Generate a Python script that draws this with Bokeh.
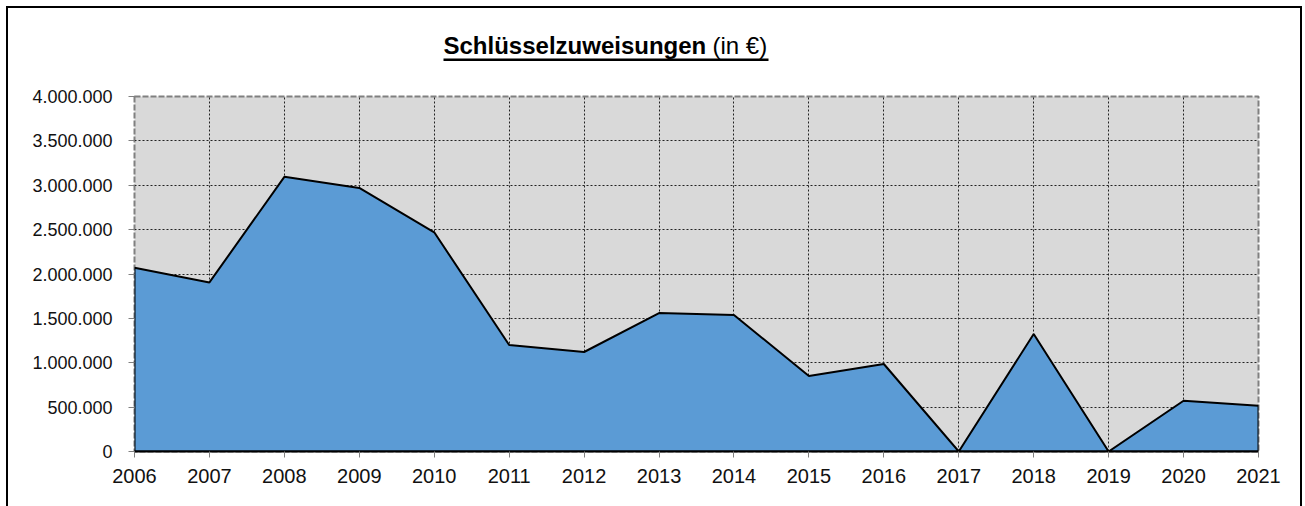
from bokeh.plotting import figure
from bokeh.layouts import column
from bokeh.models import Range1d, FixedTicker, CustomJSTickFormatter
from bokeh.core.properties import value
from bokeh.embed import file_html
from bokeh.resources import INLINE

years = list(range(2006, 2022))
values = [2070000, 1905000, 3095000, 2970000, 2470000, 1200000, 1121000, 1560000,
          1538000, 851000, 986000, 0, 1324000, 0, 572000, 516000]
y_ticks = [0, 500000, 1000000, 1500000, 2000000, 2500000, 3000000, 3500000, 4000000]
title_bold = "Schlüsselzuweisungen"
title_normal = "(in €)"

FONT = "Liberation Sans"
FRAME_L, FRAME_W, FRAME_R = 134, 1124, 47
TITLE_H = 86

# ---------- title strip: same horizontal frame as the chart, coordinates in pixels ----------
t = figure(frame_width=FRAME_W, frame_height=TITLE_H,
           x_range=Range1d(FRAME_L, FRAME_L + FRAME_W), y_range=Range1d(0, TITLE_H),
           x_axis_type=None, y_axis_type=None, output_backend="svg", toolbar_location=None,
           min_border_left=FRAME_L, min_border_right=FRAME_R, min_border_top=0, min_border_bottom=0)
t.grid.visible = False
t.outline_line_color = None
t.background_fill_color = None
t.border_fill_color = None
# y values are measured upward from the bottom of the strip
t.text(x=[443], y=[TITLE_H - 45], text=[title_bold], text_font=value(FONT), text_font_size="24px",
       text_font_style="bold", text_color="black", text_align="left", text_baseline="alphabetic")
t.text(x=[712], y=[TITLE_H - 45], text=[title_normal], text_font=value(FONT), text_font_size="24px",
       text_font_style="normal", text_color="black", text_align="left", text_baseline="alphabetic")
t.segment(x0=[443], y0=[TITLE_H - 59.2], x1=[768], y1=[TITLE_H - 59.2], line_color="black", line_width=2.5)

# ---------- chart ----------
p = figure(frame_width=FRAME_W, frame_height=355,
           x_range=Range1d(years[0], years[-1]), y_range=Range1d(y_ticks[0], y_ticks[-1]),
           output_backend="svg", toolbar_location=None,
           min_border_left=FRAME_L, min_border_right=FRAME_R, min_border_top=10, min_border_bottom=55)
p.border_fill_color = None
p.background_fill_color = "#D9D9D9"
p.outline_line_color = "#808080"
p.outline_line_width = 2
p.outline_line_dash = "6 2"

xs = [years[0]] + years + [years[-1]]
ys = [0] + values + [0]
p.patch(xs, ys, fill_color="#5B9BD5", line_color="black", line_width=2)

p.xaxis.ticker = FixedTicker(ticks=years)
p.yaxis.ticker = FixedTicker(ticks=y_ticks)
p.yaxis.formatter = CustomJSTickFormatter(code="""
return Math.round(tick).toString().replace(/\\B(?=(\\d{3})+(?!\\d))/g, ".");
""")
for ax in (p.xaxis[0], p.yaxis[0]):
    ax.major_tick_in = 0
    ax.major_tick_out = 6
    ax.minor_tick_in = 0
    ax.minor_tick_out = 0
    ax.major_tick_line_color = "#808080"
    ax.major_label_text_font = FONT
    ax.major_label_text_color = "#111111"
p.xaxis.axis_line_color = "black"
p.xaxis.axis_line_width = 2
p.yaxis.axis_line_color = None
p.xaxis.major_label_text_font_size = "20px"
p.yaxis.major_label_text_font_size = "18px"
p.xaxis.major_label_standoff = 11
p.yaxis.major_label_standoff = 16

p.xgrid.ticker = FixedTicker(ticks=years)
p.ygrid.ticker = FixedTicker(ticks=y_ticks)
for g in (p.xgrid[0], p.ygrid[0]):
    g.grid_line_color = "#222222"
    g.grid_line_width = 1
    g.grid_line_dash = "2 2"

layout = column(t, p, spacing=0)
# white page with a black outer border (left, top, right; the bottom edge is cut off)
layout.styles = {
    "background": ("linear-gradient(#000,#000) 6px 6px / 2px calc(100% - 6px) no-repeat, "
                   "linear-gradient(#000,#000) 6px 6px / 1296px 2px no-repeat, "
                   "linear-gradient(#000,#000) 1300px 6px / 2px calc(100% - 6px) no-repeat, "
                   "#ffffff"),
}

open("out.html", "w").write(file_html(layout, INLINE))
